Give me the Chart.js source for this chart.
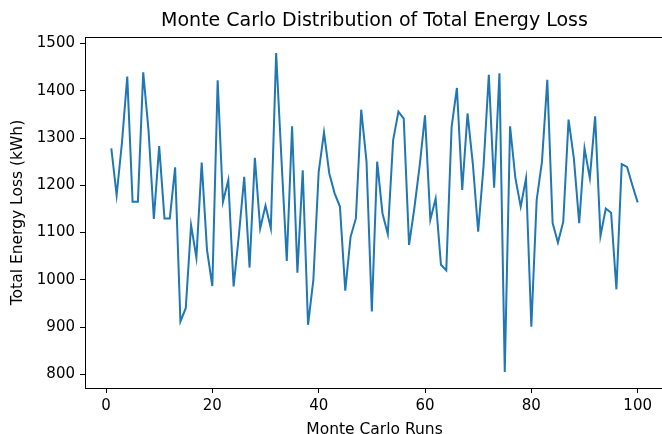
<!DOCTYPE html>
<html>
<head>
<meta charset="utf-8">
<script src="https://cdn.jsdelivr.net/npm/chart.js@4"></script>
<style>
  html, body { margin: 0; padding: 0; background: #fff; overflow: hidden; width: 662px; height: 434px; }
  canvas { display: block; }
</style>
</head>
<body>
<canvas id="myChart" width="666" height="440"></canvas>
<script>
// run index 1..100
const runs = Array.from({ length: 100 }, (_, i) => i + 1);
const lossValues = [
  1278, 1179, 1290, 1430, 1165, 1165, 1439, 1316, 1129, 1283,
  1130, 1130, 1238, 912, 940, 1116, 1047, 1248, 1063, 987,
  1422, 1165, 1211, 986, 1095, 1218, 1026, 1258, 1109, 1157,
  1109, 1480, 1255, 1040, 1325, 1015, 1232, 905, 1000, 1228,
  1312, 1225, 1183, 1155, 977, 1091, 1130, 1360, 1250, 933,
  1250, 1141, 1097, 1295, 1356, 1341, 1074, 1152, 1242, 1348,
  1127, 1172, 1032, 1020, 1323, 1406, 1190, 1352, 1245, 1102,
  1239, 1434, 1195, 1437, 805, 1325, 1215, 1155, 1215, 901,
  1169, 1250, 1423, 1120, 1079, 1123, 1339, 1257, 1120, 1278,
  1215, 1346, 1093, 1151, 1142, 980, 1245, 1239, 1200, 1164
];
const xTicks = [0, 20, 40, 60, 80, 100];
const yTicks = [800, 900, 1000, 1100, 1200, 1300, 1400, 1500];

const font = "'DejaVu Sans', sans-serif";

// matplotlib style 5% margins
const xSpan = runs[runs.length - 1] - runs[0];
const yMin = Math.min(...lossValues), yMax = Math.max(...lossValues);
const ySpan = yMax - yMin;

const boxPlugin = {
  id: 'box',
  afterDraw(chart) {
    const a = chart.chartArea, ctx = chart.ctx;
    ctx.save();
    ctx.strokeStyle = '#000';
    ctx.lineWidth = 1;
    ctx.strokeRect(Math.round(a.left) + 0.5, Math.round(a.top) + 0.5,
                   Math.round(a.right - a.left), Math.round(a.bottom - a.top));
    ctx.restore();
  }
};

const ctx = document.getElementById('myChart').getContext('2d');
const mychart = new Chart(ctx, {
  type: 'line',
  data: {
    datasets: [{
      label: 'Total Energy Loss',
      data: lossValues.map((v, i) => ({ x: runs[i], y: v })),
      borderColor: '#1f77b4',
      borderWidth: 2,
      pointRadius: 0,
      tension: 0,
      fill: false
    }]
  },
  options: {
    responsive: false,
    animation: false,
    layout: { padding: { top: 0, right: 2, bottom: 0, left: 0 } },
    plugins: {
      legend: { display: false },
      tooltip: { enabled: false },
      title: {
        display: true,
        text: 'Monte Carlo Distribution of Total Energy Loss',
        fullSize: false,
        color: '#000',
        font: { family: font, size: 19, weight: 'normal', lineHeight: 1.2 },
        padding: { top: 9.6, bottom: 4.6 }
      }
    },
    scales: {
      x: {
        type: 'linear',
        min: runs[0] - xSpan * 0.05,
        max: runs[runs.length - 1] + xSpan * 0.05,
        afterBuildTicks: s => { s.ticks = xTicks.map(v => ({ value: v })); },
        afterFit: s => { s.height = 52; },
        grid: { drawOnChartArea: false, tickLength: 5, color: '#000', tickColor: '#000' },
        border: { color: '#000' },
        ticks: { color: '#000', font: { family: font, size: 15 }, padding: 4, maxRotation: 0,
                 callback: v => String(v) },
        title: {
          display: true, text: 'Monte Carlo Runs', color: '#000',
          font: { family: font, size: 15.5, lineHeight: 1.2 },
          padding: { top: 0, bottom: 1 }
        }
      },
      y: {
        min: yMin - ySpan * 0.05,
        max: yMax + ySpan * 0.05,
        afterBuildTicks: s => { s.ticks = yTicks.map(v => ({ value: v })); },
        afterFit: s => { s.width = 85; },
        grid: { drawOnChartArea: false, tickLength: 5, color: '#000', tickColor: '#000' },
        border: { color: '#000' },
        ticks: { color: '#000', font: { family: font, size: 15 }, padding: 5,
                 callback: v => String(v) },
        title: {
          display: true, text: 'Total Energy Loss (kWh)', color: '#000',
          font: { family: font, size: 15.5, lineHeight: 1.2 },
          padding: { top: 8.7, bottom: 0 }
        }
      }
    }
  },
  plugins: [boxPlugin]
});
</script>
</body>
</html>
